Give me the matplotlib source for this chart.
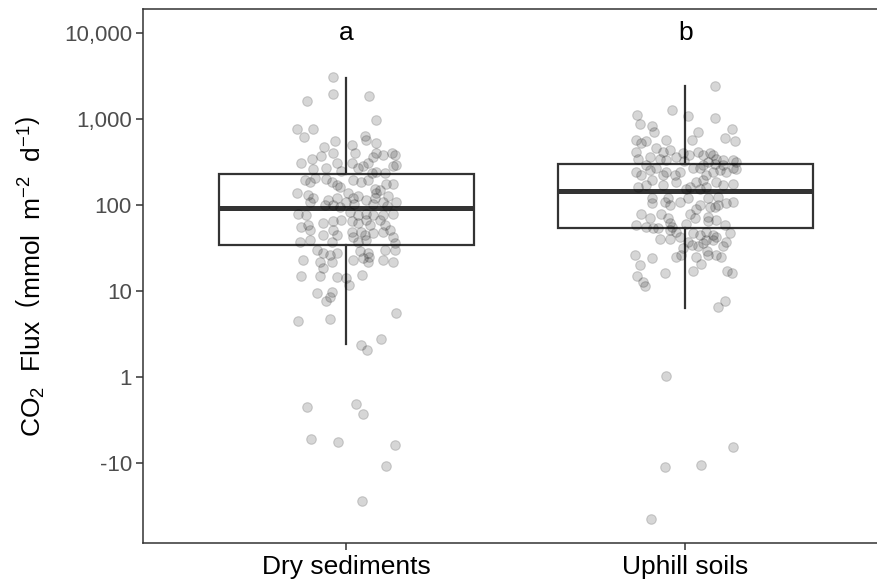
import numpy as np
import matplotlib
matplotlib.use("Agg")
import matplotlib.pyplot as plt

plt.rcParams['font.family'] = ['Liberation Sans', 'DejaVu Sans']
plt.rcParams['mathtext.fontset'] = 'custom'
plt.rcParams['mathtext.rm'] = 'Liberation Sans'
plt.rcParams['mathtext.it'] = 'Liberation Sans:italic'
plt.rcParams['mathtext.bf'] = 'Liberation Sans:bold'

# --- datos ---
grupos = ['Dry sediments', 'Uphill soils']
letras = ['a', 'b']

# estadisticos de las cajas (mmol m-2 d-1)
q1 = [34, 54]
medianas = [93, 146]
q3 = [229, 297]
bigote_inf = [2.4, 6.4]
bigote_sup = [2980, 2420]

dry_log = [3.49, 3.29, 3.27, 3.21, 2.99, 2.89, 2.88, 2.79, 2.80, 2.75,
           2.49, 2.53, 2.57, 2.68, 2.61, 2.49, 2.43, 2.42, 2.29, 2.31,
           2.27, 2.30, 2.27, 2.21, 2.23, 2.70, 2.60, 2.49, 2.43, 2.45,
           2.49, 2.56, 2.61, 2.58, 2.61, 2.58, 2.72, 2.76, 2.37, 2.39,
           2.37, 2.45, 2.47, 2.29, 2.27, 2.29, 2.19, 2.14, 2.17, 2.25,
           2.25, 2.14, 2.12, 2.08, 2.04, 2.06, 2.08, 2.14, 2.08, 2.10,
           2.06, 2.08, 2.04, 2.10, 2.04, 2.40, 2.03, 2.01, 2.01, 1.99,
           1.90, 1.88, 2.00, 2.00, 1.98, 1.92, 1.88, 1.90, 1.88, 1.88,
           1.90, 1.79, 1.81, 1.83, 1.81, 1.79, 1.83, 1.77, 1.83, 1.77,
           1.75, 1.77, 1.71, 1.65, 1.71, 1.65, 1.69, 1.63, 1.69, 1.65,
           1.67, 1.69, 1.71, 1.63, 1.57, 1.59, 1.57, 1.57, 1.59, 1.56,
           1.48, 1.44, 1.42, 1.44, 1.46, 1.44, 1.48, 1.48, 1.36, 1.34,
           1.34, 1.36, 1.38, 1.34, 1.36, 1.34, 1.27, 1.17, 1.17, 1.16,
           1.15, 1.19, 1.07, 0.98, 0.99, 0.93, 0.88, 0.75, 0.65, 0.68,
           0.44, 0.37, 0.31, -0.35, -0.31, -0.43, -0.72, -0.75, -0.79, -1.03,
           -1.44, 1.40]
dry_jitter = [-0.039, -0.041, 0.067, -0.116, 0.088, -0.147, -0.098, -0.125, 0.054, -0.035,
              -0.133, -0.103, -0.074, -0.067, -0.039, -0.029, -0.059, -0.098, -0.123, -0.094,
              -0.108, -0.059, -0.044, -0.020, -0.029, 0.015, 0.024, 0.015, 0.035, 0.049,
              0.064, 0.079, 0.088, 0.108, 0.133, 0.142, 0.088, 0.059, 0.074, 0.088,
              0.113, 0.138, 0.147, 0.020, 0.044, 0.064, 0.083, 0.088, 0.098, 0.118,
              0.138, -0.147, -0.113, -0.098, -0.108, -0.054, -0.029, 0.005, 0.020, 0.035,
              0.059, 0.083, 0.108, 0.123, 0.147, -0.015, 0.000, 0.021, 0.077, 0.121,
              -0.142, -0.118, -0.064, -0.039, -0.020, 0.010, 0.035, 0.059, 0.079, 0.108,
              0.138, -0.069, -0.039, -0.015, 0.015, 0.035, 0.059, 0.069, 0.098, 0.113,
              -0.133, -0.113, -0.108, -0.069, -0.039, -0.029, 0.015, 0.020, 0.044, 0.054,
              0.079, 0.108, 0.128, 0.138, -0.138, -0.108, -0.044, 0.035, 0.059, 0.142,
              -0.088, -0.069, -0.049, -0.029, 0.039, 0.064, 0.113, 0.142, -0.128, -0.079,
              -0.044, 0.020, 0.049, 0.064, 0.108, 0.138, -0.069, -0.133, -0.079, -0.029,
              -0.002, 0.047, 0.008, -0.088, -0.044, -0.049, -0.059, 0.147, -0.142, -0.049,
              0.101, 0.042, 0.062, -0.116, 0.029, 0.049, -0.104, -0.024, 0.142, 0.118,
              0.046, 0.067]

up_log = [3.39, 3.11, 3.04, 3.05, 3.01, 2.94, 2.92, 2.85, 2.76, 2.72,
          2.74, 2.76, 2.62, 2.54, 2.66, 2.62, 2.64, 2.56, 2.54, 2.52,
          2.56, 2.60, 2.85, 2.76, 2.62, 2.58, 2.60, 2.58, 2.54, 2.52,
          2.89, 2.78, 2.74, 2.52, 2.50, 2.39, 2.35, 2.41, 2.43, 2.35,
          2.39, 2.35, 2.27, 2.43, 2.43, 2.47, 2.35, 2.39, 2.41, 2.39,
          2.43, 2.27, 2.29, 2.27, 2.23, 2.25, 2.21, 2.23, 2.23, 2.19,
          2.21, 2.19, 2.21, 2.58, 2.47, 2.51, 2.50, 2.48, 2.47, 2.42,
          2.39, 2.29, 2.02, 2.04, 2.00, 2.04, 1.96, 2.00, 1.98, 1.98,
          2.00, 2.02, 2.04, 1.90, 1.85, 1.90, 1.85, 1.79, 1.90, 1.85,
          1.81, 1.83, 1.86, 1.77, 1.75, 1.73, 1.71, 1.69, 1.63, 1.61,
          1.61, 1.67, 1.65, 1.69, 1.65, 1.63, 1.77, 1.67, 1.54, 1.52,
          1.56, 1.59, 1.59, 1.57, 1.52, 1.42, 1.38, 1.40, 1.42, 1.40,
          1.42, 1.42, 1.40, 2.08, 2.08, 2.08, 2.09, 2.08, 1.75, 1.73,
          1.78, 1.57, 1.47, 1.50, 1.30, 1.21, 1.23, 1.31, 1.23, 1.21,
          1.17, 1.10, 1.06, 0.88, 0.81, 0.01, -0.81, -1.05, -1.02, -1.65]
up_jitter = [0.088, -0.041, 0.008, -0.142, 0.086, -0.135, -0.100, -0.094, -0.145, -0.130,
             -0.115, -0.056, -0.145, -0.140, -0.086, -0.066, -0.046, -0.105, -0.076, -0.056,
             -0.027, -0.007, 0.037, 0.018, 0.037, 0.052, 0.072, 0.082, 0.091, 0.111,
             0.136, 0.116, 0.145, 0.141, 0.150, -0.145, -0.130, -0.105, -0.086, -0.066,
             -0.056, -0.032, -0.027, 0.023, 0.042, 0.052, 0.062, 0.082, 0.101, 0.121,
             0.141, 0.032, 0.052, 0.091, 0.111, 0.141, -0.140, -0.115, -0.066, 0.003,
             0.013, 0.042, 0.062, 0.012, -0.115, -0.003, 0.068, 0.086, 0.112, 0.150,
             -0.017, -0.100, -0.100, -0.061, -0.046, -0.017, 0.032, 0.042, 0.072, 0.086,
             0.096, 0.121, 0.141, -0.130, -0.105, -0.071, -0.051, -0.046, 0.013, 0.027,
             0.067, 0.091, 0.067, -0.145, -0.115, -0.095, -0.046, -0.027, -0.017, -0.076,
             -0.046, 0.023, 0.042, 0.062, 0.082, 0.091, 0.116, 0.131, 0.018, 0.037,
             0.052, 0.062, 0.082, 0.121, 0.111, -0.150, -0.100, -0.027, -0.012, 0.032,
             0.067, 0.091, 0.106, -0.100, -0.051, 0.067, 0.096, 0.008, -0.041, -0.081,
             0.003, 0.008, 0.065, -0.007, -0.135, -0.061, 0.023, 0.045, 0.124, 0.136,
             -0.142, -0.125, -0.118, 0.116, 0.096, -0.058, 0.139, -0.059, 0.045, -0.101]

y_ticks = [10000, 1000, 100, 10, 1, -10]
y_ticklabels = ['10,000', '1,000', '100', '10', '1', '-10']


def slog(v):
    # escala log10 con signo (1 -> 0, -10 -> -1)
    v = np.asarray(v, dtype=float)
    return np.sign(v) * np.log10(np.abs(v))


fig = plt.figure(figsize=(8.78, 5.85), dpi=100)
ax = fig.add_axes([0.1629, 0.0718, 0.8494, 0.9128])

# --- cajas ---
stats = []
for i in range(len(grupos)):
    stats.append({'med': slog(medianas[i]), 'q1': slog(q1[i]), 'q3': slog(q3[i]),
                  'whislo': slog(bigote_inf[i]), 'whishi': slog(bigote_sup[i]),
                  'fliers': []})
gris = '#333333'
ax.bxp(stats, positions=[1, 2], widths=0.75, showcaps=False, showfliers=False,
       patch_artist=True,
       boxprops=dict(facecolor='white', edgecolor=gris, linewidth=1.6),
       medianprops=dict(color=gris, linewidth=3.6, solid_capstyle='butt'),
       whiskerprops=dict(color=gris, linewidth=1.6), zorder=2)

# --- puntos ---
ax.scatter(1 + np.array(dry_jitter), dry_log, s=48, c='black', alpha=0.16,
           edgecolors='black', linewidths=0.8, zorder=3)
ax.scatter(2 + np.array(up_jitter), up_log, s=48, c='black', alpha=0.16,
           edgecolors='black', linewidths=0.8, zorder=3)

# letras de significancia
for i, l in enumerate(letras):
    ax.text(i + 1, slog(10000), l, ha='center', va='center', fontsize=19)

ax.set_xlim(0.4, 2.6)
ax.set_ylim(-1.93, 4.28)
ax.set_xticks([1, 2])
ax.set_xticklabels(grupos, fontsize=19, color='black')
ax.set_yticks(slog(y_ticks))
ax.set_yticklabels(y_ticklabels, fontsize=16, color='#4d4d4d')
ax.tick_params(axis='both', length=5, width=1.1, color=gris)
ax.tick_params(axis='x', pad=4)
ax.tick_params(axis='y', pad=3)
for s in ax.spines.values():
    s.set_color(gris)
    s.set_linewidth(1.1)
ax.spines['right'].set_visible(False)

ax.set_ylabel(r'CO$_2$  Flux  $\left(\mathrm{mmol\ \ m^{-2}\ \ d^{-1}}\right)$',
              fontsize=19, labelpad=12)

fig.savefig('out.png', dpi=100)
